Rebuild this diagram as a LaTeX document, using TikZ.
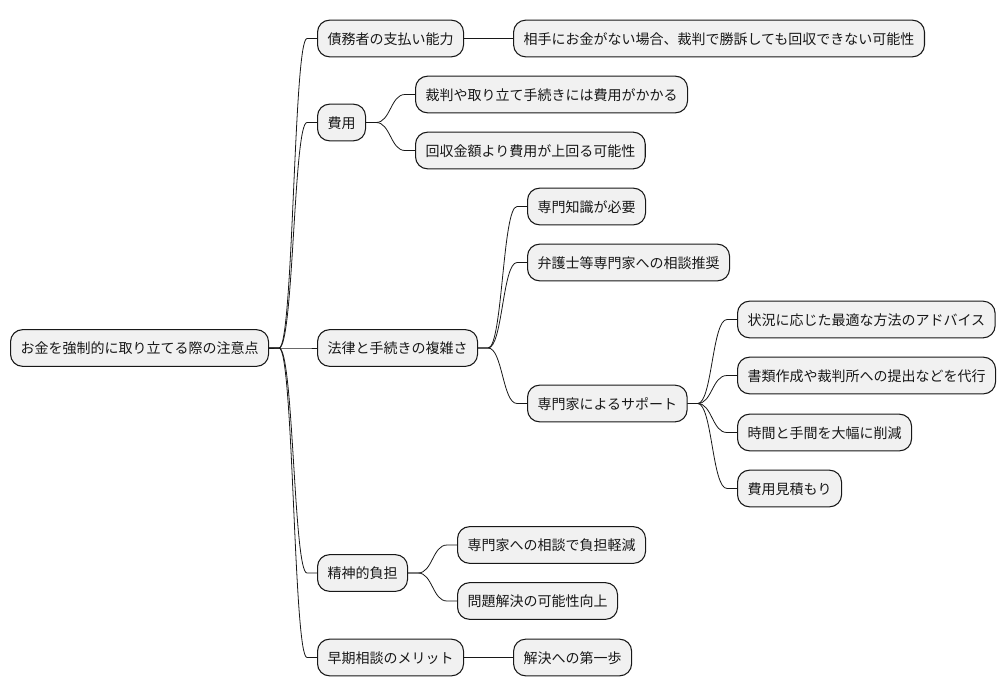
\documentclass[tikz,border=0pt]{standalone}
\usepackage{fontspec}
\setmainfont{Noto Sans CJK JP}
\usetikzlibrary{positioning, calc}
\definecolor{boxfill}{HTML}{F1F1F1}
\definecolor{boxline}{HTML}{181818}
\tikzstyle{topic} = [rectangle, anchor=west, rounded corners=9pt, minimum height=27.5pt, inner xsep=7.5pt, inner ysep=0pt, text height=9.25pt, text depth=0.75pt, font=\fontsize{10.5pt}{12pt}\selectfont, text=boxline, draw=boxline, fill=boxfill, line width=0.8pt]
\tikzstyle{branch} = [draw=boxline, line width=0.6pt, to path={-- ($(\tikztostart)+(10,0)$) .. controls ($(\tikztostart)+(24.5,0)$) and ($(\tikztostart |- \tikztotarget)+(24.5,0)$) .. ($(\tikztotarget)+(-10,0)$) -- (\tikztotarget)}]

\begin{document}
\begin{tikzpicture}[x=0.75pt, y=0.75pt, node distance=36.75pt]
\useasboundingbox (0,0.5) rectangle (1006,-695.5);
\node (root) [topic] at (10,-347.5) {お金を強制的に取り立てる際の注意点};
\node (n1) [topic] at (317,-38) {債務者の支払い能力};
\node (n1a) [topic, right=of n1] {相手にお金がない場合、裁判で勝訴しても回収できない可能性};
\node (n2) [topic] at (317,-122) {費用};
\node (n2a) [topic] at (415,-94) {裁判や取り立て手続きには費用がかかる};
\node (n2b) [topic] at (415,-150) {回収金額より費用が上回る可能性};
\node (n3) [topic] at (317,-347.5) {法律と手続きの複雑さ};
\node (n3a) [topic] at (527,-206) {専門知識が必要};
\node (n3b) [topic] at (527,-262) {弁護士等専門家への相談推奨};
\node (n3c) [topic] at (527,-403) {専門家によるサポート};
\node (c1) [topic] at (737,-319) {状況に応じた最適な方法のアドバイス};
\node (c2) [topic] at (737,-375) {書類作成や裁判所への提出などを代行};
\node (c3) [topic] at (737,-432) {時間と手間を大幅に削減};
\node (c4) [topic] at (737,-488) {費用見積もり};
\node (n4) [topic] at (317,-572.5) {精神的負担};
\node (n4a) [topic] at (457,-544.5) {専門家への相談で負担軽減};
\node (n4b) [topic] at (457,-600.5) {問題解決の可能性向上};
\node (n5) [topic] at (317,-657) {早期相談のメリット};
\node (n5a) [topic, right=of n5] {解決への第一歩};
\draw [branch] (root.east) to (n1.west);
\draw [branch] (root.east) to (n2.west);
\draw [branch] (root.east) to (n3.west);
\draw [branch] (root.east) to (n4.west);
\draw [branch] (root.east) to (n5.west);
\draw [branch] (n1.east) to (n1a.west);
\draw [branch] (n2.east) to (n2a.west);
\draw [branch] (n2.east) to (n2b.west);
\draw [branch] (n3.east) to (n3a.west);
\draw [branch] (n3.east) to (n3b.west);
\draw [branch] (n3.east) to (n3c.west);
\draw [branch] (n3c.east) to (c1.west);
\draw [branch] (n3c.east) to (c2.west);
\draw [branch] (n3c.east) to (c3.west);
\draw [branch] (n3c.east) to (c4.west);
\draw [branch] (n4.east) to (n4a.west);
\draw [branch] (n4.east) to (n4b.west);
\draw [branch] (n5.east) to (n5a.west);
\end{tikzpicture}
\end{document}
